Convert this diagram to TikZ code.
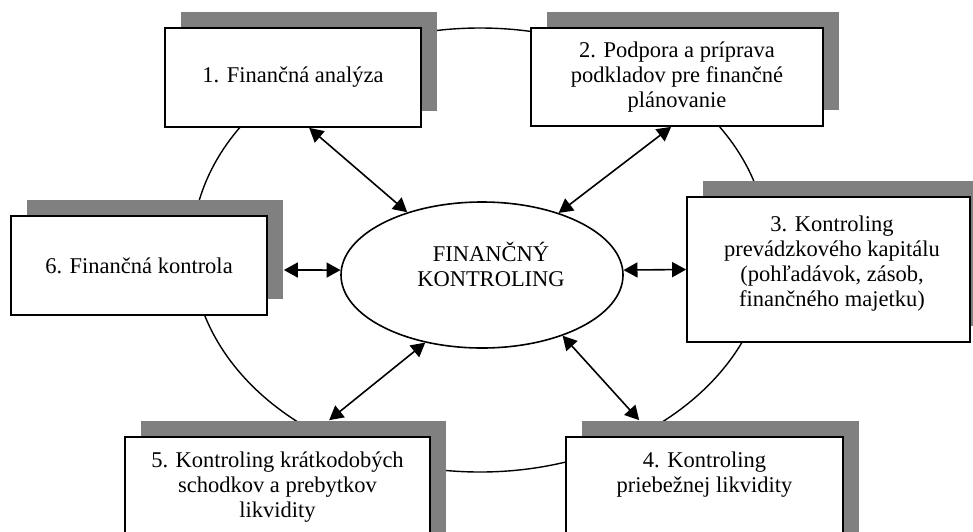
\documentclass[tikz,border=0pt]{standalone}
\usepackage{fontspec}
\setmainfont{Liberation Serif}
\usetikzlibrary{shapes.geometric,arrows.meta,shadows}
\definecolor{shadowgray}{HTML}{808080}
\begin{document}
\begin{tikzpicture}[x=1pt,y=-1pt,
  font=\fontsize{22.5}{25}\selectfont,
  box/.style={draw, fill=white, line width=1.7pt, inner sep=0pt, align=center,
    drop shadow={shadow xshift=16pt, shadow yshift=16pt, fill=shadowgray, opacity=1}},
  txt/.style={inner sep=0pt, align=center},
  arr/.style={<->, >={Triangle[length=14pt,width=15pt]}, line width=1.6pt},
  ring/.style={line width=1.4pt}]
\useasboundingbox (0,0) rectangle (973,531);
\clip (0,0) rectangle (973,531);
% outer ring
\draw[ring] (480,250) ellipse [x radius=288, y radius=222];
% boxes
\node[box, minimum width=256pt, minimum height=99pt] (b1) at (293,77.5) {1. Finančná analýza};
\node[box, minimum width=292pt, minimum height=98pt] (b2) at (677,77) {2. Podpora a príprava\\podkladov pre finančné\\plánovanie};
\node[box, minimum width=283pt, minimum height=145pt] (b3) at (828.5,269.5) {};
\node[box, minimum width=256pt, minimum height=99pt] (b6) at (139,265.5) {6. Finančná kontrola};
\node[box, minimum width=305pt, minimum height=113pt] (b5) at (277.5,493.5) {};
\node[box, minimum width=277pt, minimum height=113pt] (b4) at (704.5,493.5) {};
\node[txt] (t3) at ([xshift=3.5pt,yshift=-67.5pt]b3.north) {3. Kontroling\\prevádzkového kapitálu\\(pohľadávok, zásob,\\finančného majetku)};
\node[txt] (t4) at ([yshift=-38pt]b4.north) {4. Kontroling\\priebežnej likvidity};
\node[txt] (t5) at ([yshift=-50.5pt]b5.north) {5. Kontroling krátkodobých\\schodkov a prebytkov\\likvidity};
% centre
\node[ellipse, draw, fill=white, line width=1.6pt, inner sep=0pt,
  minimum width=282pt, minimum height=146pt] (fk) at (482,275) {};
\node[txt] (tfk) at (491,264.5) {FINANČNÝ\\KONTROLING};
% connectors
\draw[arr] ([xshift=145pt]b1.south west) -- (fk.140);
\draw[arr] ([xshift=141pt]b2.south west) -- (fk.39);
\draw[arr] ([xshift=16pt,yshift=-4.5pt]b6.east) -- (fk.178);
\draw[arr] (fk.2) -- (b3.west);
\draw[arr] (fk.230) -- ([xshift=205pt,yshift=16pt]b5.north west);
\draw[arr] (fk.323) -- ([xshift=74pt,yshift=16pt]b4.north west);
\end{tikzpicture}
\end{document}
